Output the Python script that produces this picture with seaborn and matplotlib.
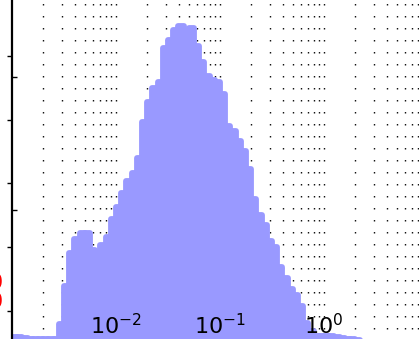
import numpy as np
import pandas as pd
import matplotlib
matplotlib.use("Agg")
import matplotlib.pyplot as plt
from matplotlib.ticker import FixedLocator, LogLocator, NullFormatter
from matplotlib.transforms import blended_transform_factory
import seaborn as sns

# Histogram of values binned in log10 space
log_start = -3.0          # first bin edge (log10 units)
log_step = 0.05           # bin width (log10 units)
counts = [45, 45, 40, 30, 30, 30, 30, 30, 30, 145,
          425, 675, 780, 830, 825, 700, 685, 735, 795, 930,
          1025, 1125, 1215, 1275, 1390, 1665, 1815, 1920, 1965, 2220,
          2280, 2355, 2385, 2325, 2370, 2235, 2115, 2010, 1980, 1965,
          1875, 1635, 1595, 1520, 1440, 1310, 1080, 960, 885, 765,
          720, 570, 485, 405, 360, 275, 150, 90, 55, 55,
          55, 50, 43, 37, 30, 30, 25]

x_limits = [1e-3, 1e1]
y_limits = [0, 2579]
x_ticks = [1e-2, 1e-1, 1e0]
x_tick_labels = ["$10^{-2}$", "$10^{-1}$", "$10^{0}$"]
y_ticks_out = [241, 722, 1203, 1677, 2158]
y_ticks_in = [1000, 2000]
side_labels = ["0", "0"]

n_bins = len(counts)
log_centers = log_start + log_step * (np.arange(n_bins) + 0.5)
df = pd.DataFrame({"value": 10 ** log_centers, "count": counts})

sns.set_style("white")
plt.rcParams["font.family"] = ["DejaVu Sans"]
plt.rcParams["mathtext.fontset"] = "dejavusans"

W, H = 419, 339
fig = plt.figure(figsize=(W / 100, H / 100), dpi=100)
ax = fig.add_axes([12 / W, -4 / H, 416 / W, 343 / H])

fill = "#9999ff"
sns.histplot(data=df, x="value", weights="count", log_scale=True,
             binwidth=log_step, binrange=(log_start, log_start + log_step * n_bins),
             element="bars", color=fill, alpha=1, edgecolor=fill,
             linewidth=4.2, ax=ax)
for p in ax.patches:
    p.set_joinstyle("round")
    p.set_capstyle("round")

ax.set_xlim(*x_limits)
ax.set_ylim(*y_limits)
ax.set_xlabel("")
ax.set_ylabel("")

# dotted vertical grid on every decade sub-division
ax.xaxis.set_major_locator(FixedLocator(x_ticks))
ax.xaxis.set_major_formatter(NullFormatter())
ax.xaxis.set_minor_locator(LogLocator(base=10, subs=np.arange(2, 10)))
ax.xaxis.set_minor_formatter(NullFormatter())
ax.set_axisbelow(True)
ax.grid(True, which="both", axis="x", color="black",
        linestyle=(0.7, (1.0, 7.64)), linewidth=1.0)
ax.tick_params(axis="x", which="both", length=0)

# decade labels drawn on top of the bars
lab_tr = blended_transform_factory(ax.transData, fig.transFigure)
for xv, lab in zip(x_ticks, x_tick_labels):
    ax.text(xv, 1 - 334 / H, lab, transform=lab_tr, ha="center",
            va="baseline", fontsize=16, color="black", zorder=5)

# y axis: outward major ticks, inward minor ticks, no labels
ax.yaxis.set_major_locator(FixedLocator(y_ticks_out))
ax.yaxis.set_minor_locator(FixedLocator(y_ticks_in))
ax.yaxis.set_major_formatter(NullFormatter())
ax.yaxis.set_minor_formatter(NullFormatter())
ax.tick_params(axis="y", which="major", direction="out", length=3.5,
               width=1.0, color="black", left=True)
ax.tick_params(axis="y", which="minor", direction="in", length=3.5,
               width=1.0, color="black", left=True)

for side in ["top", "right", "bottom"]:
    ax.spines[side].set_visible(False)
ax.spines["left"].set_color("black")
ax.spines["left"].set_linewidth(1.6)

fig.text(2.5 / W, 1 - 283 / H, side_labels[0], ha="right", va="center",
         color="red", fontsize=16)
fig.text(2.5 / W, 1 - 302 / H, side_labels[1], ha="right", va="center",
         color="red", fontsize=16)

fig.savefig("out.png", dpi=100)
